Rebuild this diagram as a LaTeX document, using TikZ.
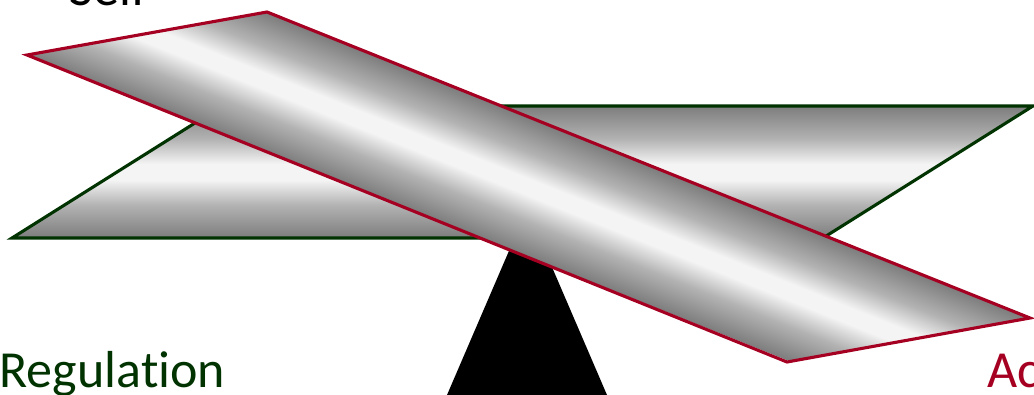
\documentclass[tikz,border=0pt]{standalone}
\usepackage{fontspec}
\setmainfont{Carlito}[Ligatures=NoCommon]
\definecolor{verde}{RGB}{0,51,0}
\definecolor{rojo}{RGB}{165,0,33}
\definecolor{borde}{RGB}{125,125,125}
\definecolor{centro}{RGB}{244,244,244}
\pgfdeclareverticalshading{metal}{100bp}{color(0bp)=(borde); color(25bp)=(borde);
  color(37.5bp)=(black!30); color(47bp)=(centro); color(53bp)=(centro);
  color(62.5bp)=(black!30); color(75bp)=(borde); color(100bp)=(borde)}

\begin{document}
\begin{tikzpicture}[x=0.025cm, y=-0.025cm, line width=2.2pt,
    etiqueta/.style={inner sep=0pt, anchor=base west, font=\fontsize{37}{44}\selectfont},
    plano/.style={shading=metal}]
  \useasboundingbox (0,0) rectangle (1034,395);
  % fulcro
  \fill (527,209) -- (607,395) -- (447,395) -- cycle;
  % plano verde (horizontal)
  \shade[plano, draw=verde] (12,238) -- (222,106) -- (1033,106) -- (823,238) -- cycle;
  % plano rojo (inclinado, sombreado girado)
  \begin{scope}
    \clip (27,55) -- (267,12) -- (1030,318) -- (787,362) -- cycle;
    \begin{scope}[transform canvas={rotate around={-21.85:(527.75,186.75)}}]
      \shade[plano] (-100,122.25) rectangle (1150,251.25);
    \end{scope}
  \end{scope}
  \draw[rojo] (27,55) -- (267,12) -- (1030,318) -- (787,362) -- cycle;
  % textos
  \node[etiqueta] (self) at (68,5) {Self};
  \node[etiqueta, text=verde] (regulacion) at (-2,387) {Regulation};
  \node[etiqueta, text=rojo] (ac) at (986,387) {Ac};
\end{tikzpicture}
\end{document}
